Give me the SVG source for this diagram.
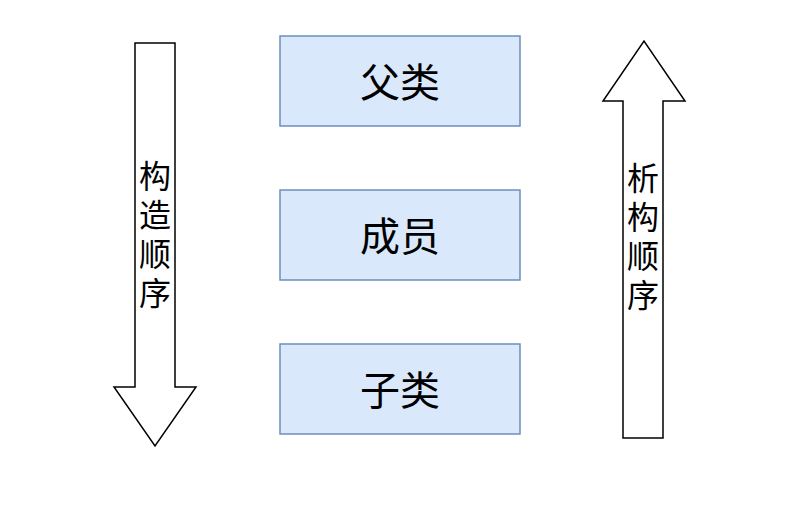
<svg xmlns="http://www.w3.org/2000/svg" width="800" height="512" viewBox="0 0 800 512">
<style>
.box{fill:#dae8fc;stroke:#6c8ebf;stroke-width:1.5}
.arr{fill:#ffffff;stroke:#000000;stroke-width:1.5;stroke-linejoin:miter}
.bt{font-family:"Noto Sans CJK SC",sans-serif;font-size:40px;fill:#000;text-anchor:middle}
.at{font-family:"Noto Sans CJK SC",sans-serif;font-size:32px;fill:#000;text-anchor:middle}
</style>
<rect width="800" height="512" fill="#ffffff"/>
<g id="connectors">
<g id="construct-arrow">
<path class="arr" d="M135,43 L175,43 L175,387 L196,387 L155,446 L114,387 L135,387 Z"/>
<text class="at" x="155" y="188">构</text>
<text class="at" x="155" y="227">造</text>
<text class="at" x="155" y="266">顺</text>
<text class="at" x="155" y="305">序</text>
</g>
<g id="destruct-arrow">
<path class="arr" d="M623,438 L663,438 L663,101 L685,101 L644,41 L603,101 L623,101 Z"/>
<text class="at" x="643" y="190">析</text>
<text class="at" x="643" y="229">构</text>
<text class="at" x="643" y="268">顺</text>
<text class="at" x="643" y="307">序</text>
</g>
</g>
<g id="parent">
<rect class="box" x="280" y="36" width="240" height="90"/>
<text class="bt" x="400" y="97">父类</text>
</g>
<g id="member">
<rect class="box" x="280" y="190" width="240" height="90"/>
<text class="bt" x="400" y="251">成员</text>
</g>
<g id="child">
<rect class="box" x="280" y="344" width="240" height="90"/>
<text class="bt" x="400" y="405">子类</text>
</g>
</svg>
